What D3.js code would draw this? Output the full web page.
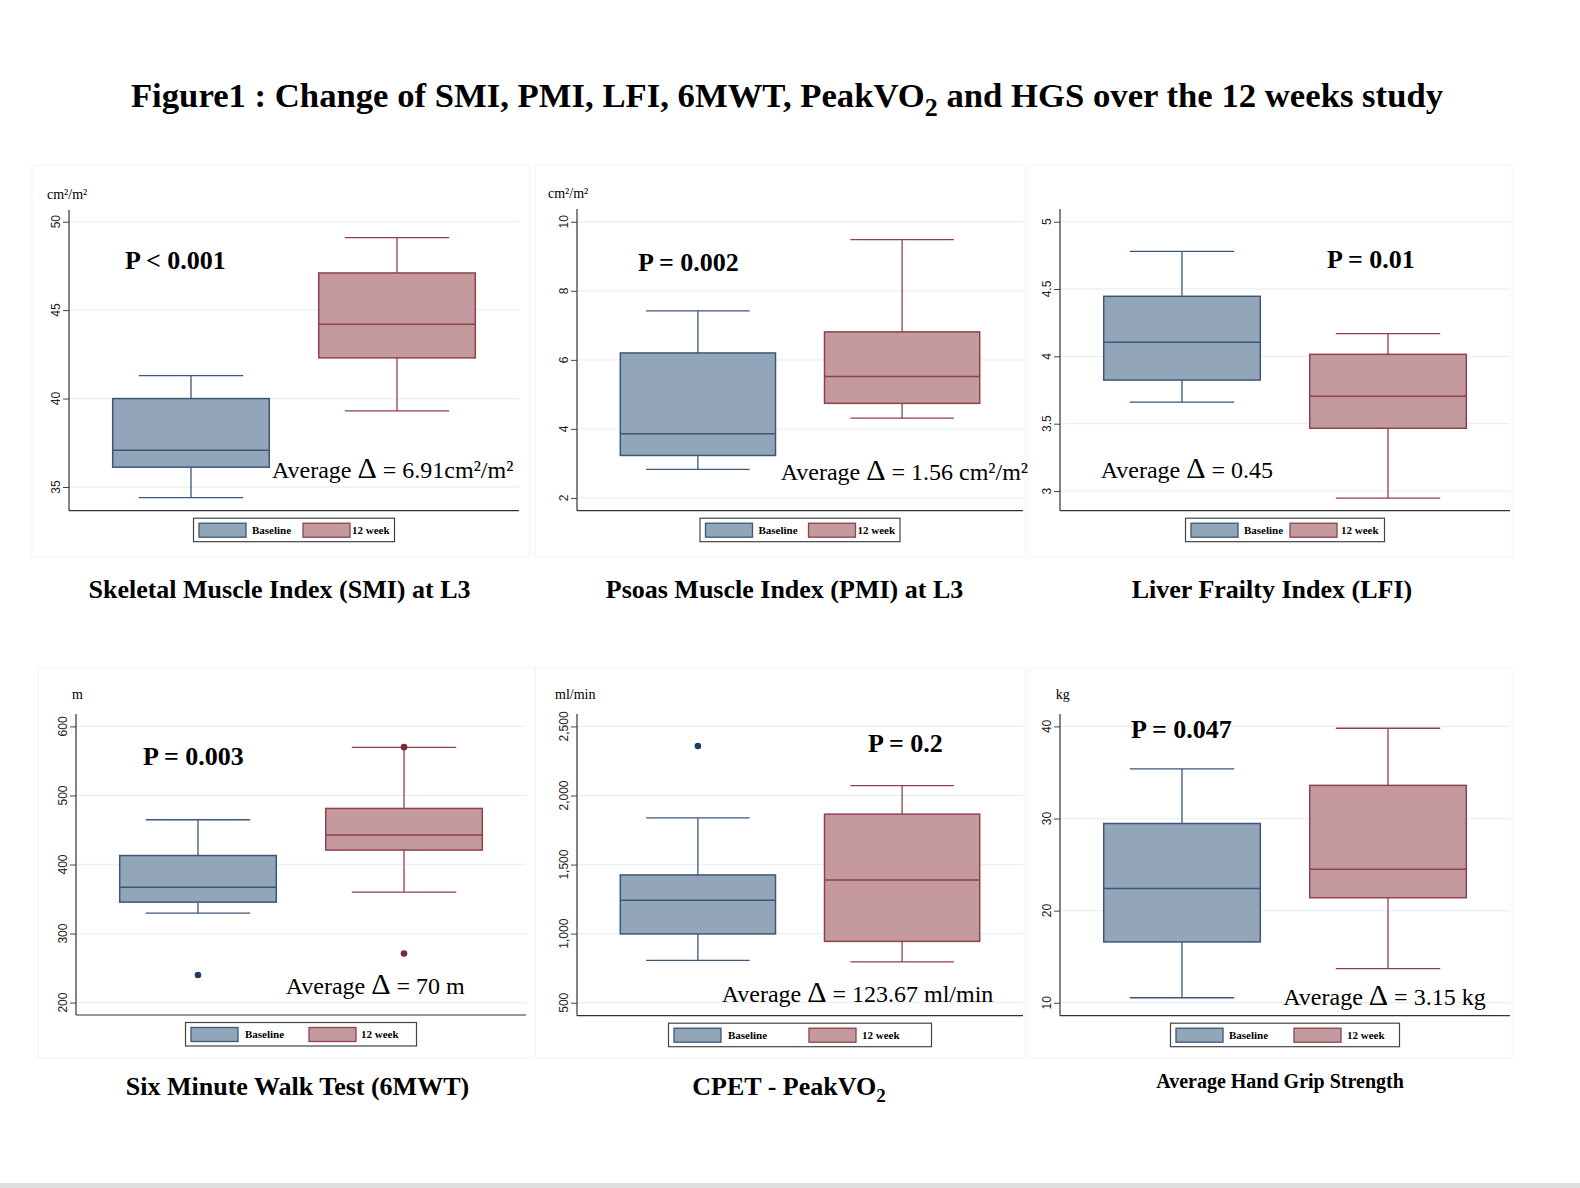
<!DOCTYPE html>
<html lang="en">
<head>
<meta charset="UTF-8">
<title>Figure1 : Change of SMI, PMI, LFI, 6MWT, PeakVO2 and HGS</title>
<script src="https://d3js.org/d3.v7.min.js"></script>
<style>
    body { margin: 0; background: #fff; }
    svg { display: block; }
    .serif { font-family: "Liberation Serif", "Times New Roman", serif; }
    .tick-label { font-family: "Liberation Sans", Arial, sans-serif; font-size: 12px; fill: #222; }
</style>
</head>
<body>
<div id="chart"></div>
<script>
// ---- data ----
var groups = ["Baseline", "12 week"];
var panelNames = ["SMI", "PMI", "LFI", "6MWT", "PeakVO2", "HGS"];

// [lower whisker, Q1, median, Q3, upper whisker]
var baselineBoxes = [
    [34.4, 36.12, 37.08, 40.0, 41.3],
    [2.83, 3.23, 3.86, 6.2, 7.42],
    [3.66, 3.824, 4.104, 4.446, 4.78],
    [329.6, 345.5, 367.2, 413, 464.8],
    [807, 998, 1241, 1425, 1838],
    [10.54, 16.6, 22.4, 29.46, 35.4]
];
var week12Boxes = [
    [39.3, 42.3, 44.2, 47.1, 49.1],
    [4.31, 4.74, 5.52, 6.81, 9.48],
    [2.948, 3.466, 3.703, 4.015, 4.168],
    [360, 420.9, 442.6, 481.2, 569.6],
    [795, 944, 1389, 1865, 2072],
    [13.7, 21.4, 24.5, 33.6, 39.8]
];
var baselineOutliers = [[], [], [], [240], [2358], []];
var week12Outliers = [[], [], [], [570, 271], [], []];

var yTicks = [
    [35, 40, 45, 50],
    [2, 4, 6, 8, 10],
    [3, 3.5, 4, 4.5, 5],
    [200, 300, 400, 500, 600],
    [500, 1000, 1500, 2000, 2500],
    [10, 20, 30, 40]
];
var yExtents = [
    [33.66, 50.66],
    [1.63, 10.37],
    [2.854, 5.094],
    [182, 618],
    [406, 2590],
    [8.59, 41.35]
];
var units = ["cm\u00b2/m\u00b2", "cm\u00b2/m\u00b2", "", "m", "ml/min", "kg"];
var pLabels = ["P < 0.001", "P = 0.002", "P = 0.01", "P = 0.003", "P = 0.2", "P = 0.047"];
var deltaValues = ["6.91cm\u00b2/m\u00b2", "1.56 cm\u00b2/m\u00b2", "0.45", "70 m", "123.67 ml/min", "3.15 kg"];
var captions = [
    ["Skeletal Muscle Index (SMI) at L3"],
    ["Psoas Muscle Index (PMI) at L3"],
    ["Liver Frailty Index (LFI)"],
    ["Six Minute Walk Test (6MWT)"],
    ["CPET - PeakVO", "2"],
    ["Average Hand Grip Strength"]
];

// ---- layout (pixel boxes of each panel) ----
var layout = [
    {plot: [69, 210, 519, 510.7],  unit: [47, 199],     p: [125, 269],   avg: [272, 478],     legW: 201, legOff: 104, legTxt: [53, 49], cap: [279.5, 598, 26]},
    {plot: [577, 209, 1023, 510.7], unit: [548, 198],   p: [638, 271],   avg: [780.7, 480],   legW: 200, legOff: 103, legTxt: [53, 49], cap: [784.5, 598, 26]},
    {plot: [1060, 209, 1510, 510.7], unit: [1040, 198], p: [1327, 267.7], avg: [1100.7, 478], legW: 199, legOff: 99,  legTxt: [53, 51], cap: [1272, 598, 26]},
    {plot: [76, 714, 526, 1015],   unit: [72, 699],     p: [143, 765],   avg: [285.7, 994.3], legW: 231, legOff: 118, legTxt: [54, 52], cap: [297.5, 1095, 26]},
    {plot: [577, 714, 1023, 1015.7], unit: [555, 699],  p: [868, 752.3], avg: [721.7, 1001.7], legW: 263, legOff: 135, legTxt: [54, 53], cap: [789, 1095, 26]},
    {plot: [1060, 714, 1510, 1015.7], unit: [1055.7, 699], p: [1131, 737.7], avg: [1283.3, 1005], legW: 229, legOff: 118, legTxt: [53, 53], cap: [1280, 1088, 20]}
];
var panelFrames = [
    [32, 165, 530, 557], [535, 165, 1025, 557], [1028, 165, 1512, 557],
    [38, 668, 535, 1058], [535, 668, 1025, 1058], [1028, 668, 1512, 1058]
];

var fills = {"Baseline": "#93a5b9", "12 week": "#c49a9f"};
var strokes = {"Baseline": "#3c5779", "12 week": "#8e424c"};
var dots = {"Baseline": "#1f3c64", "12 week": "#7b2b35"};

var width = 1580, height = 1188;
var svg = d3.select("#chart").append("svg")
    .attr("width", width)
    .attr("height", height);

svg.append("rect").attr("width", width).attr("height", height).attr("fill", "#fff");

// faint panel frames
svg.selectAll("rect.frame")
    .data(panelFrames)
    .enter().append("rect")
    .attr("class", "frame")
    .attr("x", d => d[0]).attr("y", d => d[1])
    .attr("width", d => d[2] - d[0]).attr("height", d => d[3] - d[1])
    .attr("fill", "none")
    .attr("stroke", "#f4f4f4");

// bottom separator
svg.append("rect")
    .attr("x", 0).attr("y", 1183).attr("width", width).attr("height", 5)
    .attr("fill", "#dedede");

// title
var title = svg.append("text")
    .attr("class", "serif")
    .attr("x", 787).attr("y", 107)
    .attr("text-anchor", "middle")
    .style("font-size", "34.7px").style("font-weight", "bold");
title.append("tspan").text("Figure1 : Change of SMI, PMI, LFI, 6MWT, PeakVO");
title.append("tspan").attr("dy", 9).style("font-size", "26px").text("2");
title.append("tspan").attr("dy", -9).text(" and HGS over the 12 weeks study");

panelNames.forEach(function(name, i) {
    var L = layout[i];
    var x0 = L.plot[0], y0 = L.plot[1], x1 = L.plot[2], y1 = L.plot[3];
    var g = svg.append("g").attr("class", "panel-" + name);

    var y = d3.scaleLinear().domain(yExtents[i]).range([y1, y0]);
    var x = d3.scalePoint().domain(groups).range([x0, x1]).padding(0.592);
    var boxW = x.step() * 0.76;
    var capW = boxW * 0.667;

    // gridlines
    g.selectAll("line.grid")
        .data(yTicks[i])
        .enter().append("line")
        .attr("x1", x0).attr("x2", x1)
        .attr("y1", d => y(d)).attr("y2", d => y(d))
        .attr("stroke", "#eaf0f2").attr("stroke-width", 1.3);

    // y axis
    var axis = g.append("g")
        .attr("transform", "translate(" + x0 + ",0)")
        .call(d3.axisLeft(y).tickValues(yTicks[i]).tickSize(6).tickFormat(""));
    axis.select(".domain").remove();
    axis.selectAll(".tick line").attr("stroke", "#444");
    g.selectAll("text.tick-label")
        .data(yTicks[i])
        .enter().append("text")
        .attr("class", "tick-label")
        .attr("text-anchor", "middle")
        .attr("transform", d => "translate(" + (x0 - 9) + "," + y(d) + ") rotate(-90)")
        .text(d => d3.format(",")(d));

    g.append("line").attr("x1", x0).attr("x2", x0).attr("y1", y0).attr("y2", y1)
        .attr("stroke", "#333").attr("stroke-width", 1.2);
    g.append("line").attr("x1", x0).attr("x2", x1).attr("y1", y1).attr("y2", y1)
        .attr("stroke", "#333").attr("stroke-width", 1.2);

    var stats = [
        {grp: "Baseline", s: baselineBoxes[i], out: baselineOutliers[i]},
        {grp: "12 week", s: week12Boxes[i], out: week12Outliers[i]}
    ];

    stats.forEach(function(b) {
        var cx = x(b.grp), col = strokes[b.grp];
        // whiskers
        g.append("line").attr("x1", cx).attr("x2", cx)
            .attr("y1", y(b.s[4])).attr("y2", y(b.s[3]))
            .attr("stroke", col).attr("stroke-width", 1.3);
        g.append("line").attr("x1", cx).attr("x2", cx)
            .attr("y1", y(b.s[1])).attr("y2", y(b.s[0]))
            .attr("stroke", col).attr("stroke-width", 1.3);
        [b.s[0], b.s[4]].forEach(function(v) {
            g.append("line").attr("x1", cx - capW / 2).attr("x2", cx + capW / 2)
                .attr("y1", y(v)).attr("y2", y(v))
                .attr("stroke", col).attr("stroke-width", 1.3);
        });
        // box
        g.append("rect")
            .attr("x", cx - boxW / 2).attr("width", boxW)
            .attr("y", y(b.s[3])).attr("height", y(b.s[1]) - y(b.s[3]))
            .attr("fill", fills[b.grp]).attr("stroke", col).attr("stroke-width", 1.5);
        g.append("line").attr("x1", cx - boxW / 2).attr("x2", cx + boxW / 2)
            .attr("y1", y(b.s[2])).attr("y2", y(b.s[2]))
            .attr("stroke", col).attr("stroke-width", 1.5);
        // outliers
        g.selectAll(null).data(b.out).enter().append("circle")
            .attr("cx", cx).attr("cy", d => y(d)).attr("r", 3.3)
            .attr("fill", dots[b.grp]);
    });

    // unit label
    if (units[i]) {
        g.append("text").attr("class", "serif")
            .attr("x", L.unit[0]).attr("y", L.unit[1])
            .style("font-size", "14px").text(units[i]);
    }

    // P value
    g.append("text").attr("class", "serif")
        .attr("x", L.p[0]).attr("y", L.p[1])
        .style("font-size", "26px").style("font-weight", "bold")
        .text(pLabels[i]);

    // average delta
    var avg = g.append("text").attr("class", "serif")
        .attr("x", L.avg[0]).attr("y", L.avg[1])
        .style("font-size", "24px");
    avg.append("tspan").text("Average ");
    avg.append("tspan").style("font-size", "30px").text("\u0394");
    avg.append("tspan").text(" = " + deltaValues[i]);

    // legend
    var lx = (x0 + x1) / 2 - L.legW / 2, ly = y1 + 7.5;
    var leg = g.append("g").attr("transform", "translate(" + lx + "," + ly + ")");
    leg.append("rect").attr("width", L.legW).attr("height", 23.5)
        .attr("fill", "#fff").attr("stroke", "#444").attr("stroke-width", 1.2);
    groups.forEach(function(grp, k) {
        var ox = 5.5 + k * L.legOff;
        leg.append("rect").attr("x", ox).attr("y", 5).attr("width", 47).attr("height", 14)
            .attr("fill", fills[grp]).attr("stroke", strokes[grp]).attr("stroke-width", 1.3);
        leg.append("text").attr("class", "serif")
            .attr("x", ox + L.legTxt[k]).attr("y", 15.5)
            .style("font-size", "11px").style("font-weight", "bold")
            .text(grp);
    });

    // caption below panel
    var cap = svg.append("text").attr("class", "serif")
        .attr("x", L.cap[0]).attr("y", L.cap[1])
        .attr("text-anchor", "middle")
        .style("font-size", L.cap[2] + "px").style("font-weight", "bold");
    cap.append("tspan").text(captions[i][0]);
    if (captions[i][1]) {
        cap.append("tspan").attr("dy", 7).style("font-size", "19px").text(captions[i][1]);
    }
});
</script>
</body>
</html>
